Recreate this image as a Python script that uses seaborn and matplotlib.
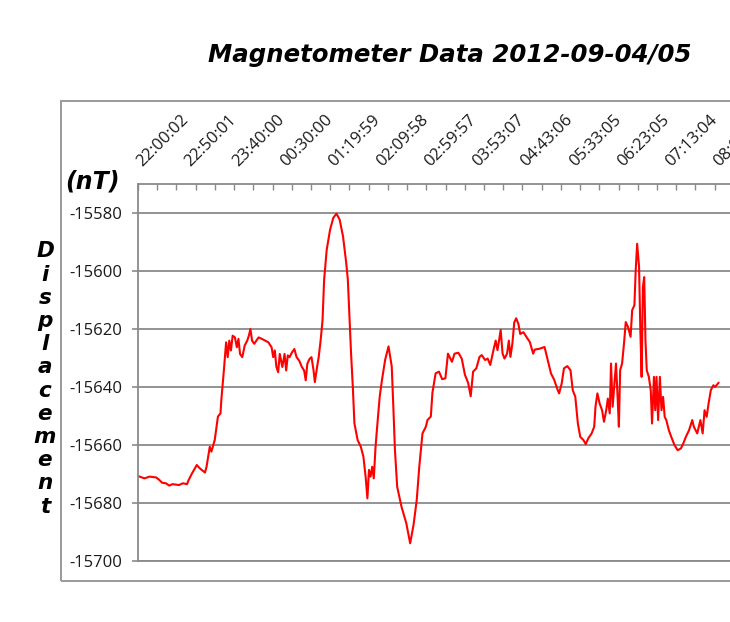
import numpy as np
import pandas as pd
import matplotlib
matplotlib.use("Agg")
import matplotlib.pyplot as plt
import matplotlib.transforms as mtransforms
import seaborn as sns
from matplotlib.patches import Rectangle

# ---- data (x = sample number along the category axis) ----
sample_idx = [0, 40, 73, 114, 134, 150, 174, 195, 215, 256, 280, 306, 316, 337, 367, 387, 418,
              428, 448, 458, 479, 499, 515,
              520, 536, 550, 560, 570, 580, 591, 605, 617, 627, 637, 651, 666, 682, 692, 702,
              712, 726, 739, 753, 773, 793, 814, 834, 844, 854, 864, 875, 885, 901, 915, 925,
              935, 946, 962, 976, 990, 1006, 1023, 1037, 1047, 1057, 1071, 1083, 1096, 1104,
              1118, 1128, 1140, 1152,
              1162, 1178, 1199, 1219, 1239, 1259, 1280, 1300, 1310, 1320, 1330, 1341, 1351,
              1371, 1391, 1407, 1421, 1432, 1442, 1452, 1462, 1472, 1483, 1493, 1509, 1523,
              1543, 1564, 1584, 1594, 1604, 1618, 1645, 1675, 1699, 1720, 1740, 1756, 1776,
              1787, 1797, 1807, 1828,
              1838, 1858, 1879, 1899, 1919, 1935, 1950, 1960, 1976, 2000, 2021, 2041, 2061,
              2077, 2092, 2112, 2132, 2146, 2167, 2183, 2199, 2219, 2233, 2244, 2254, 2264,
              2276, 2288, 2304, 2315, 2325, 2337, 2349, 2361, 2375, 2386, 2406, 2426, 2446,
              2467, 2477, 2507, 2538, 2558, 2578, 2598, 2619,
              2629, 2645, 2659, 2680, 2700, 2714, 2730, 2746, 2761, 2781, 2795, 2811, 2832,
              2848, 2856, 2868, 2882, 2897, 2909, 2923, 2933, 2945, 2953, 2963, 2974, 2984,
              2994, 3002, 3010, 3022, 3034, 3045, 3059, 3075, 3085, 3099, 3107, 3116, 3128,
              3136, 3144, 3152, 3160, 3168, 3176, 3189, 3201, 3209, 3221, 3229, 3237, 3247,
              3258, 3268, 3278, 3288, 3298, 3314, 3329, 3349, 3369, 3389, 3404, 3420, 3440,
              3460, 3470, 3491, 3511, 3525, 3537, 3550, 3562, 3576, 3592, 3602, 3625]
disp_nT = [-15670.7, -15671.5, -15670.9, -15671.2, -15672.1, -15673.0, -15673.2, -15674.0,
           -15673.5, -15673.8, -15673.2, -15673.5, -15672.1, -15669.8, -15666.9, -15668.1,
           -15669.5, -15667.5, -15660.6, -15662.3, -15658.3, -15650.2, -15649.1,
           -15644.6, -15634.3, -15624.6, -15629.7, -15624.0, -15627.4, -15622.3, -15622.9,
           -15626.3, -15623.4, -15628.6, -15629.7, -15625.7, -15624.0, -15622.3, -15620.0,
           -15624.0, -15625.1, -15624.0, -15622.9, -15623.4, -15624.0, -15624.6, -15626.3,
           -15629.7, -15627.4, -15633.1, -15634.9, -15628.6, -15633.1, -15628.6, -15634.3,
           -15629.1, -15629.7, -15628.0, -15626.9, -15629.7, -15630.9, -15633.1, -15634.3,
           -15637.7, -15632.0, -15630.3, -15629.7, -15634.3, -15638.3, -15633.1, -15629.7,
           -15624.0, -15617.0,
           -15603.0, -15592.7, -15585.8, -15581.7, -15580.2, -15582.3, -15588.1, -15597.3,
           -15603.0, -15615.7, -15628.3, -15639.9, -15652.5, -15658.3, -15660.6, -15664.0,
           -15670.9, -15678.4, -15668.6, -15670.9, -15667.5, -15671.5, -15660.6, -15653.7,
           -15643.3, -15637.6, -15630.6, -15626.0, -15632.9, -15646.8, -15661.7, -15674.4,
           -15681.3, -15687.0, -15693.9, -15687.6, -15679.0, -15667.5, -15656.0,
           -15654.8, -15653.7, -15651.4, -15650.2,
           -15642.0, -15635.3, -15634.7, -15637.3, -15637.0, -15628.5, -15630.2, -15631.3,
           -15628.5, -15628.2, -15630.2, -15635.8, -15638.6, -15643.2, -15634.7, -15633.6,
           -15629.6, -15629.0, -15630.7, -15630.2, -15632.4, -15627.3, -15624.0, -15627.3,
           -15624.0, -15620.3, -15628.5, -15630.2, -15628.5, -15624.0, -15629.6, -15625.1,
           -15617.7, -15616.3, -15618.3, -15621.7, -15621.1, -15622.8, -15624.5, -15628.5,
           -15627.1, -15626.8, -15626.2, -15630.7, -15635.3, -15637.5, -15640.9,
           -15642.2, -15638.8, -15633.6, -15632.8, -15634.2, -15641.1, -15643.4, -15652.6,
           -15657.2, -15658.3, -15659.7, -15657.7, -15656.0, -15653.7, -15646.8, -15642.2,
           -15645.7, -15648.0, -15652.0, -15648.0, -15644.0, -15649.1, -15631.9, -15646.8,
           -15638.8, -15631.9, -15643.4, -15653.7, -15634.2, -15631.9, -15625.0, -15617.6,
           -15619.3, -15622.7, -15613.5, -15611.8, -15599.8, -15590.6, -15598.6, -15620.4,
           -15636.5, -15605.5, -15602.1, -15623.9, -15634.2, -15636.5, -15641.1, -15652.6,
           -15636.5, -15648.0, -15636.5, -15651.4, -15636.5, -15648.0, -15643.4, -15650.3,
           -15651.4, -15654.9, -15657.2, -15660.0, -15661.8, -15661.2, -15659.5, -15657.2,
           -15654.9, -15651.4, -15653.7, -15656.0, -15651.4, -15656.0, -15648.0, -15650.3,
           -15645.7, -15641.1, -15639.4, -15640.0, -15638.5]
time_labels = ["22:00:02", "22:50:01", "23:40:00", "00:30:00", "01:19:59", "02:09:58",
               "02:59:57", "03:53:07", "04:43:06", "05:33:05", "06:23:05", "07:13:04", "08:03:03"]
label_every = 300      # samples between labelled categories
tick_every = 120       # samples between tick marks
y_ticks = [-15700, -15680, -15660, -15640, -15620, -15600, -15580]
title = "Magnetometer Data 2012-09-04/05"
y_title = "Displacement"
unit = "(nT)"

# ---- figure ----
sns.set_style("white")
plt.rcParams['font.family'] = ['Open Sans', 'DejaVu Sans']
plt.rcParams['text.color'] = 'black'

W, H = 730, 622
fig = plt.figure(figsize=(W / 100, H / 100), dpi=100)
fig.patch.set_facecolor("white")

# outer chart border (the chart continues past the right edge of the picture)
fig.add_artist(Rectangle((61 / W, (H - 581) / H), 2.0, (581 - 101) / H,
                         transform=fig.transFigure, fill=False, ec="#9a9a9a", lw=1.4))

plot_w_px = 692
ax = fig.add_axes([138 / W, (H - 561) / H, plot_w_px / W, (561 - 184) / H])
df = pd.DataFrame({"sample": sample_idx, "disp": disp_nT})
sns.lineplot(data=df, x="sample", y="disp", ax=ax, color="#FF0000", lw=1.5)

px_per_label = 49.3
ax.set_xlim(0, plot_w_px * label_every / px_per_label)
ax.set_ylim(-15700, -15570)
ax.set_yticks(y_ticks)
ax.set_yticklabels([str(t) for t in y_ticks])
ax.grid(axis="y", color="#8a8a8a", lw=1.3)
ax.grid(axis="x", visible=False)
ax.set_axisbelow(True)
ax.set_xlabel("")
ax.set_ylabel("")

for s in ("left", "top", "bottom"):
    ax.spines[s].set_visible(True)
    ax.spines[s].set_color("#8a8a8a")
    ax.spines[s].set_linewidth(1.3)
ax.spines["right"].set_visible(False)

ax.xaxis.tick_top()
ax.xaxis.remove_overlapping_locs = False
label_pos = [k * label_every for k in range(len(time_labels))]
ax.set_xticks(label_pos)
ax.set_xticklabels(time_labels, rotation=45, ha="left", va="bottom", rotation_mode="anchor")
ax.set_xticks(list(range(0, 4400, tick_every)), minor=True)
ax.tick_params(axis="x", which="major", length=0, pad=10, labelsize=12, labelcolor="#1a1a1a",
               top=True, bottom=False, labeltop=True, labelbottom=False)
ax.tick_params(axis="x", which="minor", length=4, direction="in", color="#8a8a8a", width=1,
               top=True, bottom=False)
ax.tick_params(axis="y", which="major", length=4, direction="out", color="#8a8a8a", width=1.2,
               pad=7, labelsize=12, labelcolor="#1a1a1a", left=True)
shift = mtransforms.ScaledTranslation(7 / 100, 0, fig.dpi_scale_trans)
for lab in ax.get_xticklabels():
    lab.set_transform(lab.get_transform() + shift)

fig.text(450 / W, 1 - 55 / H, title, ha="center", va="center", fontsize=17.6,
         fontweight="bold", style="italic", family="DejaVu Sans", color="black")
fig.text(92 / W, 1 - 182 / H, unit, ha="center", va="center", fontsize=17,
         fontweight="bold", style="italic", family="DejaVu Sans", color="black")
fig.text(45 / W, 1 - 379 / H, "\n".join(y_title), ha="center", va="center", fontsize=15.5,
         fontweight="bold", style="italic", family="DejaVu Sans", linespacing=1.2,
         color="black")

fig.savefig("out.png", dpi=100)
